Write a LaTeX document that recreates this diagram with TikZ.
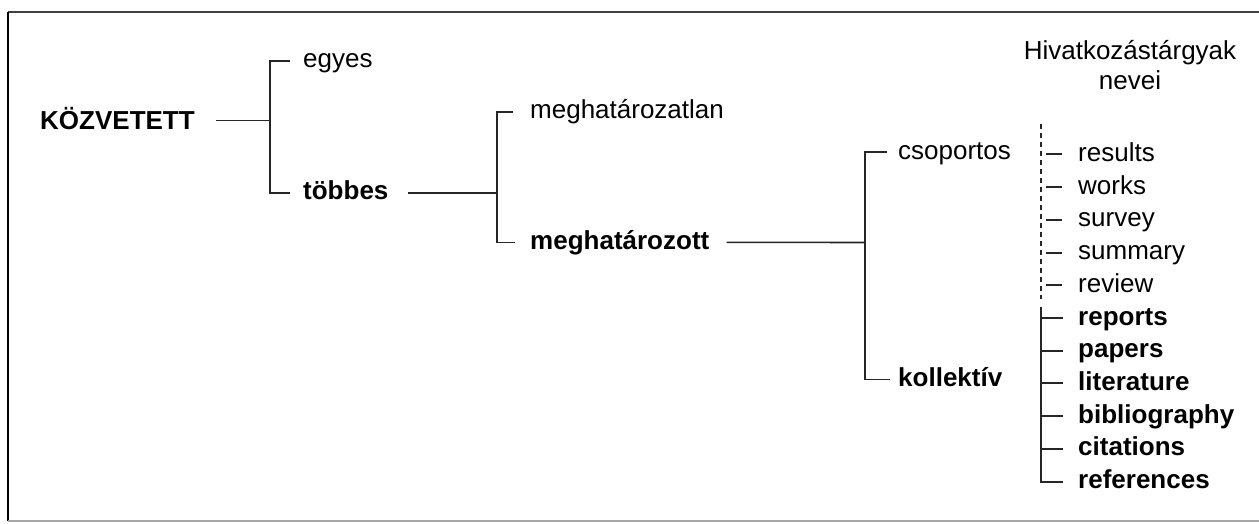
\documentclass[tikz,border=0pt]{standalone}
\usepackage{fontspec}
\setmainfont{Liberation Sans}
\usetikzlibrary{calc}
\tikzset{
  lbl/.style={anchor=west, inner sep=0pt, text height=20pt, text depth=6pt,
              font=\fontsize{26}{30}\selectfont},
  lblb/.style={lbl, font=\fontsize{26}{30}\selectfont\bfseries},
  conn/.style={line width=1.6pt, black!85},
  dconn/.style={conn, dash pattern=on 5pt off 4pt},
  tick/.style={conn, line width=2pt},
}
\begin{document}
\begin{tikzpicture}[x=1pt,y=-1pt]
\useasboundingbox (0,0) rectangle (1259,524);

% open frame: top, left and bottom rules
\draw[line width=1.8pt, black!75] (8,11.7) -- (1259,11.7);
\draw[line width=1.8pt, black] (8,11.7) -- (8,521);
\draw[line width=1.5pt, black!35] (8,521) -- (1259,521);

% tree labels
\node[lblb] (kozv)    at (40,123)    {KÖZVETETT};
\node[lbl]  (egyes)   at (303,61)    {egyes};
\node[lblb] (tobbes)  at (303,193)   {többes};
\node[lbl]  (meghlan) at (530,112)   {meghatározatlan};
\node[lblb] (meghott) at (530,242.3) {meghatározott};
\node[lbl]  (csop)    at (898,152.3) {csoportos};
\node[lblb] (koll)    at (898,379.3) {kollektív};

% column heading (base anchor sits on the last line)
\node[font=\fontsize{26}{30}\selectfont, align=center, inner sep=0pt, anchor=base]
  (head) at (1130,90) {Hivatkozástárgyak\\nevei};

% names of reference objects
\foreach \name/\txt/\st [count=\i from 0] in {
    res/results/lbl, wor/works/lbl, sur/survey/lbl, sum/summary/lbl, rev/review/lbl,
    rep/reports/lblb, pap/papers/lblb, lit/literature/lblb, bib/bibliography/lblb,
    cit/citations/lblb, refs/references/lblb}
  \node[\st] (\name) at (1078,154.3+\i*32.74) {\txt};

% level 1
\coordinate (b1) at (270,120.7);
\draw[conn] ([xshift=21pt,yshift=2.3pt]kozv.east) -- (b1);
\draw[conn] ([xshift=-13pt]egyes.west) -| (b1) |- ([xshift=-13pt]tobbes.west);

% level 2
\coordinate (b2) at (497,193);
\draw[conn] ([xshift=19pt]tobbes.east) -- (b2);
\draw[conn] ([xshift=-17pt]meghlan.west) -| (b2) |- ([xshift=-15pt]meghott.west);

% level 3
\coordinate (b3) at (865,242.5);
\draw[conn] ([xshift=17pt]meghott.east) -- (b3);
\draw[conn] ([xshift=-11pt]csop.west) -| (b3) |- ([xshift=-8pt]koll.west);

% spine of the name list: dashed for the group names, solid for the collective ones
\coordinate (sp) at (1041,124);
\draw[dconn] (sp) -- ([yshift=-14pt]sp |- rev.west);
\draw[conn] ([yshift=11pt]sp |- rep.west) |- ([xshift=-15pt]refs.west);
\foreach \n in {res,wor,sur,sum,rev}
  \draw[tick] ([xshift=-32pt]\n.west) -- ([xshift=-16pt]\n.west);
\foreach \n in {rep,pap,lit,bib,cit}
  \draw[tick] (sp |- \n.west) -- ([xshift=-15pt]\n.west);
\end{tikzpicture}
\end{document}
